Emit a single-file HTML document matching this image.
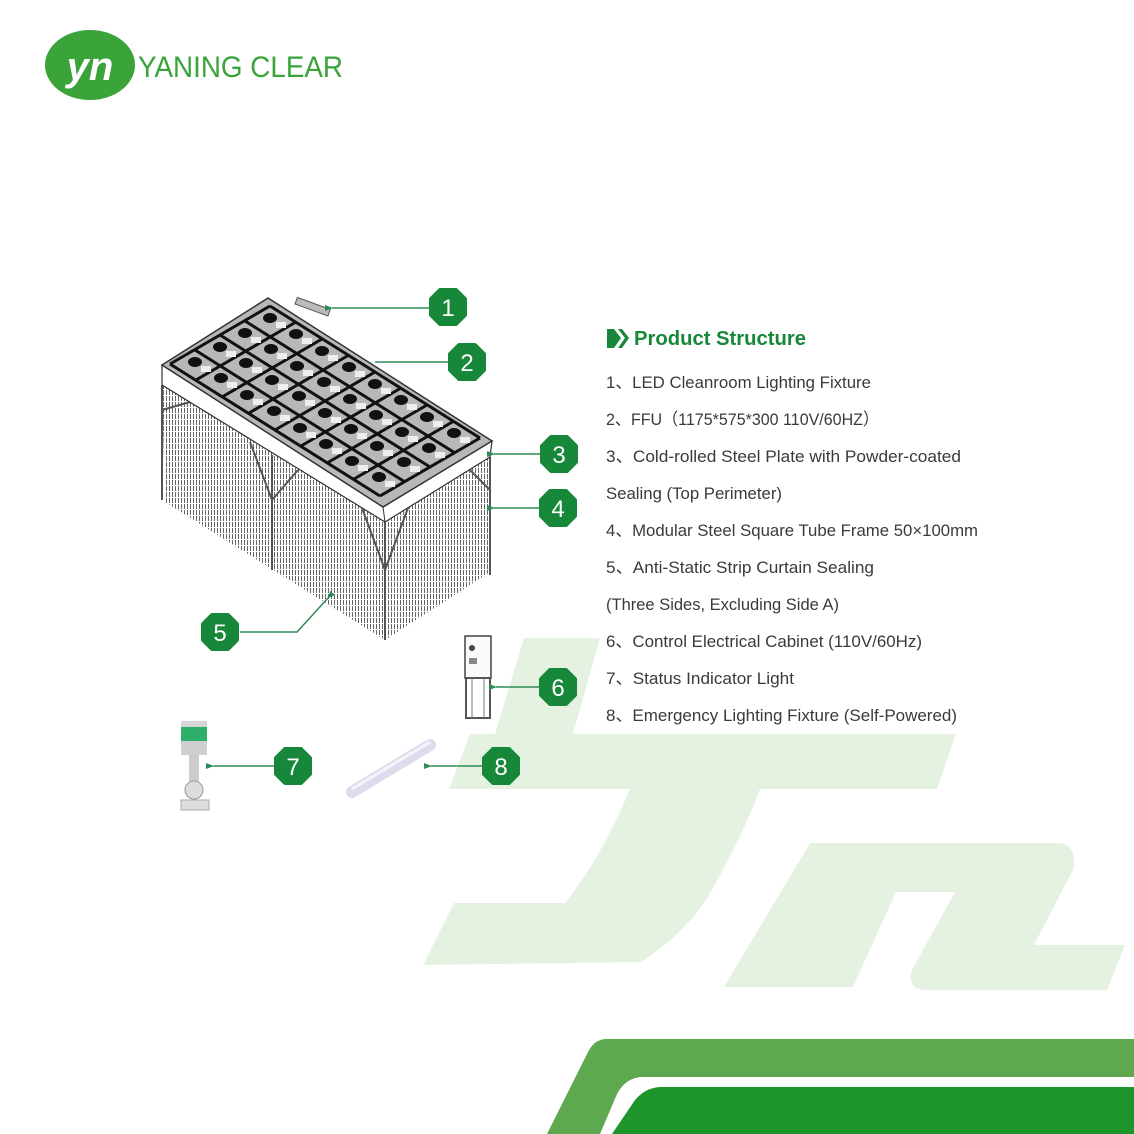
<!DOCTYPE html>
<html><head><meta charset="utf-8"><style>
html,body{margin:0;padding:0;background:#fff}
svg{display:block}
</style></head><body>
<svg width="1134" height="1134" viewBox="0 0 1134 1134" xmlns="http://www.w3.org/2000/svg" font-family="Liberation Sans, sans-serif">
<defs>
<pattern id="cur" width="3" height="6" patternUnits="userSpaceOnUse">
<rect x="1" y="0" width="1" height="5" fill="#666"/>
</pattern>
<marker id="ar" markerWidth="8" markerHeight="8" refX="1" refY="4" orient="auto-start-reverse" markerUnits="userSpaceOnUse">
<path d="M8,1 L0,4 L8,7 Z" fill="#2e8b57"/>
</marker>
<g id="badge"><path d="M-8,-17 L8,-17 L17,-8 L17,8 L8,17 L-8,17 L-17,8 L-17,-8 Z" fill="#17883a" stroke="#17883a" stroke-width="4" stroke-linejoin="round"/></g>
</defs>

<g fill="#e6f2e1">
<path d="M524,638 L600,638 L573,734 L956,734 L937,789 L760,789 Q745,830 712,890 Q690,930 641,962 L423,965 L454,903 L565,903 Q600,860 630,789 L449,789 L470,734 L495,734 Z"/>
<path d="M810,843 L1060,843 Q1078,846 1073,870 L1034,945 L1125,945 L1107,990 L925,990 Q905,988 913,968 L955,892 L896,892 L853,987 L724,987 Z"/>
</g>

<path d="M605,1039 L1134,1039 L1134,1077 L640,1077 Q625,1079 617,1094 L600,1134 L547,1134 L588,1052 Q594,1040 605,1039 Z" fill="#5ea84f"/>
<path d="M660,1087 L1134,1087 L1134,1134 L612,1134 L635,1100 Q645,1088 660,1087 Z" fill="#1d952a"/>

<ellipse cx="90" cy="65" rx="45" ry="35" fill="#3aa33a"/>
<text x="90" y="80" text-anchor="middle" font-size="40" font-weight="bold" font-style="italic" fill="#fff">yn</text>
<text x="138" y="77" font-size="30" fill="#3aa33a" textLength="205" lengthAdjust="spacingAndGlyphs">YANING CLEAR</text>

<polygon points="162,385 385,522 490,457 490,572 385,640 165,502" fill="url(#cur)"/>
<g stroke="#555" stroke-width="2" fill="none">
<line x1="162" y1="385" x2="162" y2="500"/>
<line x1="272" y1="455" x2="272" y2="570"/>
<line x1="385" y1="522" x2="385" y2="640"/>
<line x1="490" y1="457" x2="490" y2="575"/>
<path d="M250,442 L272,500 L298,470"/>
<path d="M362,508 L385,570 L408,508"/>
<path d="M470,470 L490,490"/>
<path d="M162,410 L190,402"/>
</g>
<polygon points="162,365 383,507 492,441 490,457 385,522 162,385" fill="#fff" stroke="#333" stroke-width="1.2"/>
<line x1="383" y1="507" x2="385" y2="522" stroke="#333"/>
<polygon points="268,298 492,441 383,507 162,365" fill="#b8b8b8" stroke="#333" stroke-width="1.5"/>
<g stroke="#111" stroke-width="3">
<line x1="270" y1="306" x2="480" y2="438"/>
<line x1="245" y1="321" x2="455" y2="453"/>
<line x1="220" y1="335" x2="430" y2="467"/>
<line x1="195" y1="350" x2="405" y2="482"/>
<line x1="170" y1="364" x2="380" y2="496"/>
<line x1="270" y1="306" x2="170" y2="364"/>
<line x1="296" y1="322" x2="196" y2="380"/>
<line x1="322" y1="339" x2="222" y2="397"/>
<line x1="349" y1="355" x2="249" y2="413"/>
<line x1="375" y1="372" x2="275" y2="430"/>
<line x1="401" y1="388" x2="301" y2="446"/>
<line x1="427" y1="405" x2="327" y2="463"/>
<line x1="454" y1="421" x2="354" y2="479"/>
<line x1="480" y1="438" x2="380" y2="496"/>
</g>
<g fill="#eee">
<g id="wrow">
<rect x="276" y="322" width="10" height="6"/><rect x="302" y="338" width="10" height="6"/><rect x="328" y="355" width="10" height="6"/><rect x="355" y="371" width="10" height="6"/><rect x="381" y="388" width="10" height="6"/><rect x="407" y="404" width="10" height="6"/><rect x="433" y="421" width="10" height="6"/><rect x="460" y="437" width="10" height="6"/>
</g>
<use href="#wrow" transform="translate(-25,15)"/>
<use href="#wrow" transform="translate(-50,29)"/>
<use href="#wrow" transform="translate(-75,44)"/>
</g>
<g fill="#111">
<g id="row">
<ellipse cx="270" cy="318" rx="7" ry="5"/><ellipse cx="296" cy="334" rx="7" ry="5"/><ellipse cx="322" cy="351" rx="7" ry="5"/><ellipse cx="349" cy="367" rx="7" ry="5"/><ellipse cx="375" cy="384" rx="7" ry="5"/><ellipse cx="401" cy="400" rx="7" ry="5"/><ellipse cx="427" cy="417" rx="7" ry="5"/><ellipse cx="454" cy="433" rx="7" ry="5"/>
</g>
<use href="#row" transform="translate(-25,15)"/>
<use href="#row" transform="translate(-50,29)"/>
<use href="#row" transform="translate(-75,44)"/>
</g>

<g transform="rotate(20 312 307)"><rect x="295" y="303" width="35" height="7" fill="#bbb" stroke="#555"/></g>
<rect x="465" y="636" width="26" height="42" fill="#fafafa" stroke="#444" stroke-width="1.5"/>
<circle cx="472" cy="648" r="3" fill="#444"/>
<rect x="469" y="658" width="8" height="6" fill="#888"/>
<rect x="466" y="678" width="24" height="40" fill="none" stroke="#555" stroke-width="2"/>
<line x1="472" y1="678" x2="472" y2="718" stroke="#777"/><line x1="484" y1="678" x2="484" y2="718" stroke="#777"/>
<rect x="181" y="721" width="26" height="14" fill="#d6d6d6"/>
<rect x="181" y="727" width="26" height="14" fill="#2fb06a"/>
<rect x="181" y="741" width="26" height="14" fill="#cfcfcf"/>
<rect x="189" y="755" width="10" height="30" fill="#ccc"/>
<circle cx="194" cy="790" r="9" fill="#ddd" stroke="#999"/>
<rect x="181" y="800" width="28" height="10" fill="#ddd" stroke="#aaa"/>
<line x1="352" y1="792" x2="430" y2="745" stroke="#dcdcec" stroke-width="12" stroke-linecap="round"/>
<line x1="352" y1="789" x2="430" y2="742" stroke="#f4f4fa" stroke-width="3"/>

<g stroke="#2e8b57" stroke-width="1.5" fill="none">
<line x1="432" y1="308" x2="332" y2="308" marker-end="url(#ar)"/>
<line x1="450" y1="362" x2="375" y2="362"/>
<line x1="541" y1="454" x2="494" y2="454" marker-end="url(#ar)"/>
<line x1="541" y1="508" x2="494" y2="508" marker-end="url(#ar)"/>
<polyline points="240,632 297,632 328,598" marker-end="url(#ar)"/>
<line x1="540" y1="687" x2="496" y2="687" marker-end="url(#ar)"/>
<line x1="275" y1="766" x2="213" y2="766" marker-end="url(#ar)"/>
<line x1="483" y1="766" x2="431" y2="766" marker-end="url(#ar)"/>
</g>
<g font-size="24" fill="#fff" text-anchor="middle">
<use href="#badge" x="448" y="307"/><text x="448" y="316">1</text>
<use href="#badge" x="467" y="362"/><text x="467" y="371">2</text>
<use href="#badge" x="559" y="454"/><text x="559" y="463">3</text>
<use href="#badge" x="558" y="508"/><text x="558" y="517">4</text>
<use href="#badge" x="220" y="632"/><text x="220" y="641">5</text>
<use href="#badge" x="558" y="687"/><text x="558" y="696">6</text>
<use href="#badge" x="293" y="766"/><text x="293" y="775">7</text>
<use href="#badge" x="501" y="766"/><text x="501" y="775">8</text>
</g>

<path d="M607,329 L614,329 L621,338 L614,348 L607,348 Z" fill="#17883a"/>
<path d="M618,329 L622,329 L629,338 L622,348 L618,348 L625,338 Z" fill="#17883a"/>
<text x="634" y="345" font-size="20" font-weight="bold" fill="#17883a" textLength="172" lengthAdjust="spacingAndGlyphs">Product Structure</text>
<g font-size="17" fill="#3a3a3a" font-family="Liberation Sans, Noto Sans CJK SC, sans-serif">
<text x="606" y="388" textLength="265" lengthAdjust="spacingAndGlyphs">1、LED Cleanroom Lighting Fixture</text>
<text x="606" y="425" textLength="273" lengthAdjust="spacingAndGlyphs">2、FFU（1175*575*300  110V/60HZ）</text>
<text x="606" y="462" textLength="355" lengthAdjust="spacingAndGlyphs">3、Cold-rolled Steel Plate with Powder-coated</text>
<text x="606" y="499" textLength="176" lengthAdjust="spacingAndGlyphs">Sealing (Top Perimeter)</text>
<text x="606" y="536" textLength="372" lengthAdjust="spacingAndGlyphs">4、Modular Steel Square Tube Frame 50×100mm</text>
<text x="606" y="573" textLength="268" lengthAdjust="spacingAndGlyphs">5、Anti-Static Strip Curtain Sealing</text>
<text x="606" y="610" textLength="233" lengthAdjust="spacingAndGlyphs">(Three Sides, Excluding Side A)</text>
<text x="606" y="647" textLength="316" lengthAdjust="spacingAndGlyphs">6、Control Electrical Cabinet (110V/60Hz)</text>
<text x="606" y="684" textLength="188" lengthAdjust="spacingAndGlyphs">7、Status Indicator Light</text>
<text x="606" y="721" textLength="351" lengthAdjust="spacingAndGlyphs">8、Emergency Lighting Fixture (Self-Powered)</text>
</g>
</svg>
</body></html>
